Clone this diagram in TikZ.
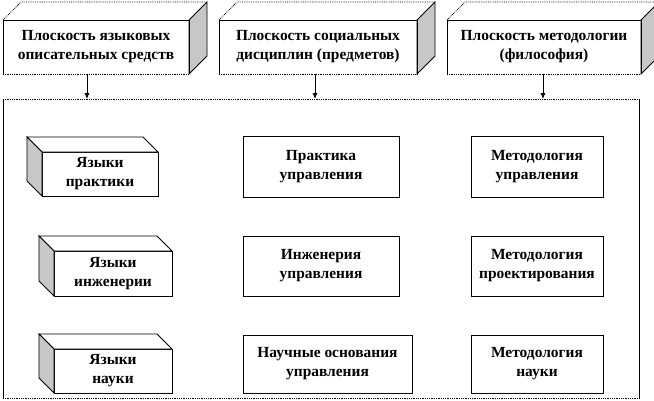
\documentclass[tikz,border=0pt]{standalone}
\usepackage{fontspec}
\setmainfont{Liberation Serif}
\usetikzlibrary{arrows.meta,calc}
\newcommand\drawtopbox[1]{%
  \fill[white] (#1.north west) -- ++(18,-18) -- ($(#1.north east)+(18,-18)$) -- (#1.north east) -- cycle;
  \draw[dotedge] (#1.north west) -- ++(18,-18) -- ($(#1.north east)+(18,-18)$);
  \draw[edge,shadeface] (#1.north east) -- ++(18,-18) -- ($(#1.south east)+(18,-18)$) -- (#1.south east) -- cycle;
  \draw[edge] (#1.south west) -- (#1.north west) -- (#1.north east) -- (#1.south east);
  \draw[dotedge] (#1.south west) -- (#1.south east);
}
\newcommand\drawleftbox[1]{%
  \draw[edge,fill=white] (#1.north west) -- ++(-15,-15) -- ($(#1.north east)+(-15,-15)$) -- (#1.north east) -- cycle;
  \draw[edge,shadeface] (#1.north west) -- ++(-15,-15) -- ($(#1.south west)+(-15,-15)$) -- (#1.south west) -- cycle;
}
\begin{document}
\begin{tikzpicture}[x=1bp,y=-1bp,
  lbl/.style={align=center,font=\fontsize{15.5}{19}\selectfont\bfseries,inner sep=0pt,outer sep=0pt},
  face/.style={lbl,draw=none,fill=white},
  edge/.style={line width=0.8bp,black},
  dotedge/.style={line width=0.8bp,black,densely dotted},
  shadeface/.style={fill=black!22},
  arr/.style={line width=0.8bp,-{Latex[length=6bp,width=5bp]}},
  flatbox/.style={lbl,draw,line width=0.8bp,fill=white}
]
\useasboundingbox (0,0) rectangle (654,400);

% outer frame
\node[draw=none,minimum width=636bp,minimum height=299bp,inner sep=0pt,outer sep=0pt] (outer) at (321,248.5) {};
\draw[edge] (outer.north west) -- (outer.south west);
\draw[edge] (outer.north east) -- (outer.south east);
\draw[dotedge] (outer.north west) -- (outer.north east);
\draw[dotedge] (outer.south west) -- (outer.south east);

% top planes
\node[face,minimum width=186bp,minimum height=54bp] (t1) at (96,47) {Плоскость языковых\\описательных средств};
\drawtopbox{t1}
\node[face,minimum width=198bp,minimum height=54bp] (t2) at (318,47) {Плоскость социальных\\дисциплин (предметов)};
\drawtopbox{t2}
\node[face,minimum width=194bp,minimum height=54bp] (t3) at (544,47) {Плоскость методологии\\(философия)};
\drawtopbox{t3}

% arrows
\coordinate (a1) at (87,0);
\coordinate (a2) at (315,0);
\coordinate (a3) at (543,0);
\draw[arr] (t1.south -| a1) -- (outer.north -| a1);
\draw[arr] (t2.south -| a2) -- (outer.north -| a2);
\draw[arr] (t3.south -| a3) -- (outer.north -| a3);

% left column (3D)
\node[flatbox,minimum width=116bp,minimum height=44bp] (l1) at (100,174) {Языки\\практики};
\drawleftbox{l1}
\node[flatbox,minimum width=118bp,minimum height=45bp] (l2) at (113,273.5) {Языки\\инженерии};
\drawleftbox{l2}
\node[flatbox,minimum width=118bp,minimum height=44bp] (l3) at (113,371) {Языки\\науки};
\drawleftbox{l3}

% middle column
\node[flatbox,minimum width=156bp,minimum height=61bp] (m1) at (321,166.5) {Практика\\управления};
\node[flatbox,minimum width=156bp,minimum height=60bp] (m2) at (321,266) {Инженерия\\управления};
\node[flatbox,minimum width=169bp,minimum height=58bp] (m3) at (327.5,364) {Научные основания\\управления};

% right column
\node[flatbox,minimum width=132bp,minimum height=61bp] (r1) at (537,166.5) {Методология\\управления};
\node[flatbox,minimum width=132bp,minimum height=60bp] (r2) at (537,266) {Методология\\проектирования};
\node[flatbox,minimum width=132bp,minimum height=58bp] (r3) at (537,364) {Методология\\науки};
\end{tikzpicture}
\end{document}
